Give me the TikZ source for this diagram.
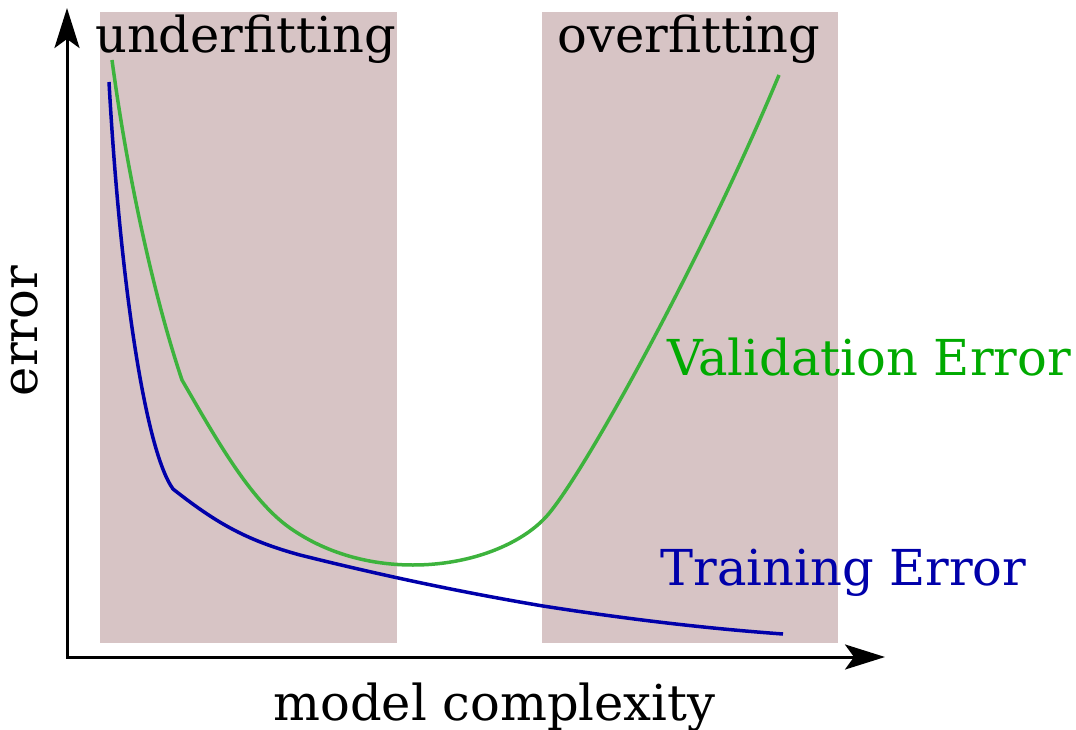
\documentclass[tikz,border=0pt]{standalone}
\usepackage{fontspec}
\setmainfont{DejaVu Serif}
\usetikzlibrary{arrows.meta}
\definecolor{band}{HTML}{D7C4C5}
\definecolor{valline}{HTML}{3DB33D}
\definecolor{valtext}{HTML}{00AA00}
\definecolor{trainblue}{HTML}{0000AA}
\begin{document}
\begin{tikzpicture}[x=1pt,y=-1pt,
  lbl/.style={font=\fontsize{49.5}{58}\selectfont, inner sep=0pt, anchor=base},
  axisline/.style={line width=3pt},
  curve/.style={line width=3.5pt, line join=round, line cap=butt}]
\useasboundingbox (0,0) rectangle (1076,730);
% shaded bands
\fill[band] (100,12) rectangle (397,643);
\fill[band] (542,12) rectangle (838,643);
% axes
\coordinate (O) at (67,657);
\coordinate (ytip) at (67,8);
\coordinate (xtip) at (885,657);
\draw[axisline, {Stealth[length=40pt,width=25pt,inset=9pt]}-{Stealth[length=40pt,width=25pt,inset=9pt]}] (ytip) -- (O) -- (xtip);
% training error curve
\coordinate (t0) at (109,82);
\coordinate (t1) at (173,489);
\coordinate (t2) at (300,555);
\coordinate (t3) at (543,606);
\coordinate (t4) at (783,634);
\draw[curve, trainblue] (t0) .. controls (120,280) and (145,450) .. (t1)
  .. controls (215,522) and (245,540) .. (t2)
  .. controls (380,575) and (460,592) .. (t3)
  .. controls (620,618) and (700,628) .. (t4);
% validation error curve
\coordinate (v0) at (112,60);
\coordinate (v1) at (182,380);
\coordinate (v2) at (290,528);
\coordinate (v3) at (413,565);
\coordinate (v4) at (543,520);
\coordinate (v5) at (779,75);
\draw[curve, valline] (v0) .. controls (128,180) and (155,300) .. (v1)
  .. controls (215,437) and (250,500) .. (v2)
  .. controls (330,556) and (375,565) .. (v3)
  .. controls (470,565) and (518,545) .. (v4)
  .. controls (575,490) and (699,267) .. (v5);
% labels
\node[lbl] (under) at (245.5,53) {underfitting};
\node[lbl] (over) at (689,53) {overfitting};
\node[lbl, text=valtext] (val) at (869,375) {Validation Error};
\node[lbl, text=trainblue] (train) at (843.5,585) {Training Error};
\node[lbl] (xlab) at (494.5,720) {model complexity};
\node[lbl, rotate=90] (ylab) at (37,331) {error};
\end{tikzpicture}
\end{document}
